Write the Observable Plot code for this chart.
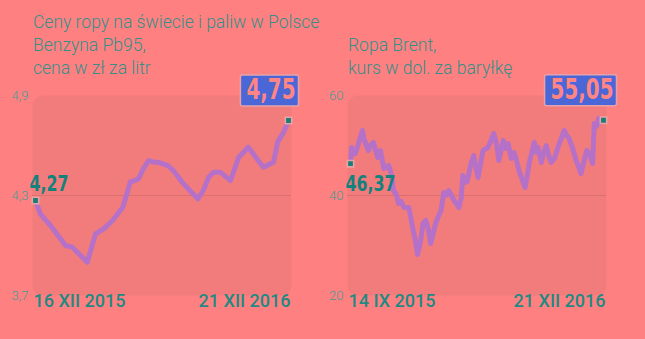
<!DOCTYPE html>
<html>
<head>
<meta charset="utf-8">
<script src="https://cdn.jsdelivr.net/npm/d3@7"></script>
<script src="https://cdn.jsdelivr.net/npm/@observablehq/plot@0.6"></script>
<style>
  body { margin: 0; background: #ff8080; }
  #page { position: relative; width: 645px; height: 339px; overflow: hidden; background: #ff8080; font-family: Roboto, "Noto Sans", sans-serif; }
  .title { position: absolute; color: #35908a; font-size: 17.5px; font-weight: 300; line-height: 23px; white-space: nowrap; }
  .chart { position: absolute; top: 70px; }
</style>
</head>
<body>
<div id="page">
  <div class="title" style="left:33px;top:11px">Ceny ropy na świecie i paliw w Polsce<br>Benzyna Pb95,<br>cena w zł za litr</div>
  <div class="title" style="left:348px;top:34px">Ropa Brent,<br>kurs w dol. za baryłkę</div>
  <div id="fuel" class="chart" style="left:0px"></div>
  <div id="brent" class="chart" style="left:322px"></div>
</div>
<script>
// Pb95 petrol, PLN per litre
const fuelDates = [
  "2015-12-16", "2015-12-23", "2016-01-07", "2016-01-29", "2016-02-08", "2016-03-01",
  "2016-03-13", "2016-03-25", "2016-04-07", "2016-04-22", "2016-05-03", "2016-05-15",
  "2016-05-22", "2016-05-30", "2016-06-06", "2016-06-12", "2016-06-27", "2016-07-05",
  "2016-07-20", "2016-08-10", "2016-08-18", "2016-08-26", "2016-09-02", "2016-09-12",
  "2016-09-27", "2016-10-09", "2016-10-23", "2016-11-14", "2016-11-29", "2016-12-05",
  "2016-12-14", "2016-12-21"
];
const fuelPrices = [
  4.27, 4.19, 4.12, 4.00, 3.99, 3.90,
  4.07, 4.10, 4.15, 4.23, 4.38, 4.40,
  4.46, 4.51, 4.50, 4.50, 4.48, 4.45,
  4.37, 4.28, 4.33, 4.41, 4.44, 4.44,
  4.39, 4.53, 4.59, 4.47, 4.50, 4.62,
  4.68, 4.75
];
const fuelTicks = [3.7, 4.3, 4.9];
const fuelGrid = [4.3];

// Brent crude, USD per barrel
const brentDates = [
  "2015-09-14", "2015-09-16", "2015-09-18", "2015-09-23", "2015-09-29", "2015-10-06", "2015-10-09",
  "2015-10-12", "2015-10-17", "2015-10-21", "2015-10-26", "2015-11-03", "2015-11-08", "2015-11-14",
  "2015-11-23", "2015-11-27", "2015-12-02", "2015-12-07", "2015-12-11", "2015-12-16", "2015-12-21",
  "2015-12-30", "2016-01-06", "2016-01-11", "2016-01-15", "2016-01-20", "2016-01-25", "2016-01-30",
  "2016-02-04", "2016-02-08", "2016-02-12", "2016-02-17", "2016-02-22", "2016-02-27", "2016-03-03",
  "2016-03-08", "2016-03-12", "2016-03-17", "2016-03-22", "2016-03-31", "2016-04-04", "2016-04-07",
  "2016-04-11", "2016-04-15", "2016-04-22", "2016-04-27", "2016-05-01", "2016-05-05", "2016-05-09",
  "2016-05-14", "2016-05-23", "2016-05-28", "2016-06-03", "2016-06-08", "2016-06-12", "2016-06-20",
  "2016-06-24", "2016-06-29", "2016-07-05", "2016-07-10", "2016-07-14", "2016-07-19", "2016-07-30",
  "2016-08-03", "2016-08-07", "2016-08-16", "2016-08-20", "2016-08-23", "2016-08-29", "2016-09-02",
  "2016-09-07", "2016-09-12", "2016-09-16", "2016-09-22", "2016-09-26", "2016-10-01", "2016-10-10",
  "2016-10-14", "2016-10-18", "2016-10-25", "2016-11-01", "2016-11-05", "2016-11-10", "2016-11-15",
  "2016-11-20", "2016-11-25", "2016-12-01", "2016-12-04", "2016-12-08", "2016-12-12", "2016-12-16",
  "2016-12-21"
];
const brentPrices = [
  46.37, 49.6, 48.2, 48.4, 50.5, 53.0, 51.2,
  50.4, 49.0, 50.1, 50.6, 47.6, 49.0, 45.4,
  46.0, 44.6, 41.0, 40.2, 38.4, 38.8, 37.6,
  37.6, 33.6, 31.0, 28.2, 30.5, 34.4, 35.0,
  33.2, 30.4, 32.0, 34.4, 35.8, 37.0, 40.6,
  40.1, 41.0, 40.0, 39.0, 37.6, 39.5, 44.0,
  42.6, 42.8, 46.4, 48.0, 45.6, 43.6, 46.0,
  49.0, 49.6, 50.8, 52.4, 50.2, 47.0, 51.0,
  49.4, 50.4, 47.4, 48.6, 47.2, 45.0, 41.6,
  43.8, 46.6, 50.6, 48.6, 49.6, 46.6, 48.4,
  50.0, 47.8, 46.6, 47.4, 48.8, 50.4, 53.0,
  52.0, 51.6, 49.6, 47.0, 45.8, 44.4, 46.8,
  49.0, 48.4, 46.4, 54.4, 53.8, 55.4, 54.6,
  55.05
];
const brentTicks = [20, 40, 60];
const brentGrid = [40];

const pl = d3.formatLocale({decimal: ",", thousands: " ", grouping: [3], currency: ["", " zł"]});
const roman = ["I", "II", "III", "IV", "V", "VI", "VII", "VIII", "IX", "X", "XI", "XII"];
const formatDay = (d) => `${d.getUTCDate()} ${roman[d.getUTCMonth()]} ${d.getUTCFullYear()}`;
const valueFormat = pl.format(".2f");

const TEAL = "#1d8a84";
const TICK = "#4b9b95";
const LINE = "#b571c8";
const PANEL = "#f27c7c";
const GRID = "#dc7070";
const BOX = "#4b66d6";
const NARROW = "'Liberation Sans Narrow', 'DejaVu Sans Condensed', Roboto, sans-serif";
const SVGNS = "http://www.w3.org/2000/svg";

// Narrow a text element horizontally around its anchor point
function condense(t, k) {
  const tr = t.getAttribute("transform") || "";
  t.setAttribute("transform", `${tr} scale(${k},1)`);
}

function drawPanel({el, dates, values, ticks, grid, tickFormat, width, marginLeft, marginRight, firstDx, firstDy, badgeDx}) {
  const data = dates.map((d, i) => ({date: d3.utcParse("%Y-%m-%d")(d), value: values[i]}));
  const first = data[0];
  const last = data[data.length - 1];
  const firstLabel = valueFormat(first.value);
  const lastLabel = valueFormat(last.value);

  const chart = Plot.plot({
    width,
    height: 260,
    marginTop: 25,
    marginBottom: 35,
    marginLeft,
    marginRight,
    style: {background: "transparent", overflow: "visible"},
    x: {type: "utc", domain: [first.date, last.date], inset: 3, axis: null},
    y: {domain: [ticks[0], ticks[ticks.length - 1]], axis: null},
    marks: [
      Plot.frame({fill: PANEL, stroke: "none", rx: 10}),
      Plot.ruleY(grid, {stroke: GRID, strokeWidth: 1.2}),
      Plot.axisY(ticks, {label: null, tickSize: 0, tickPadding: 4, tickFormat, fontSize: 13, fontWeight: 300, fontFamily: "Roboto, sans-serif", fill: TICK}),
      Plot.line(data, {x: "date", y: "value", stroke: LINE, strokeWidth: 5, strokeLinejoin: "round", strokeLinecap: "round"}),
      Plot.dot([first, last], {x: "date", y: "value", symbol: "square", r: 3.6, fill: "#1a7d78", stroke: "#e8a4a4", strokeWidth: 1.6}),
      Plot.text([first], {x: "date", text: (d) => formatDay(d.date), frameAnchor: "bottom", textAnchor: "start", dx: -2, dy: 11, fontSize: 18, fontWeight: 500, fontFamily: "Roboto, sans-serif", fill: TEAL}),
      Plot.text([last], {x: "date", text: (d) => formatDay(d.date), frameAnchor: "bottom", textAnchor: "end", dx: 2, dy: 11, fontSize: 18, fontWeight: 500, fontFamily: "Roboto, sans-serif", fill: TEAL}),
      Plot.text([first], {x: "date", y: "value", text: () => firstLabel, textAnchor: "start", dx: firstDx, dy: firstDy, fontSize: 22, fontWeight: "bold", fontFamily: NARROW, fill: "#14827c"}),
      Plot.text([last], {x: "date", y: "value", text: () => lastLabel, textAnchor: "end", dx: badgeDx, dy: -30, fontSize: 28, fontWeight: "bold", fontFamily: NARROW, fill: "#ff8585"})
    ]
  });
  document.getElementById(el).append(chart);

  const texts = Array.from(chart.querySelectorAll("text"));
  texts.filter((t) => t.textContent === firstLabel).forEach((t) => condense(t, 0.8));

  // Blue badge behind the latest value, sized to its text
  texts.filter((t) => t.textContent === lastLabel).forEach((t) => {
    condense(t, 0.79);
    const g = document.createElementNS(SVGNS, "g");
    t.parentNode.insertBefore(g, t);
    g.appendChild(t);
    const b = g.getBBox();
    const r = document.createElementNS(SVGNS, "rect");
    r.setAttribute("x", b.x - 6);
    r.setAttribute("y", b.y + 1);
    r.setAttribute("width", b.width + 9);
    r.setAttribute("height", b.height - 1);
    r.setAttribute("rx", 2);
    r.setAttribute("fill", BOX);
    r.setAttribute("stroke", "#e6a2ac");
    r.setAttribute("stroke-width", 1.5);
    g.insertBefore(r, t);
  });
}

drawPanel({
  el: "fuel", dates: fuelDates, values: fuelPrices, ticks: fuelTicks, grid: fuelGrid,
  tickFormat: pl.format(".1f"), width: 322, marginLeft: 32, marginRight: 31, firstDx: -6, firstDy: -17, badgeDx: 7
});
drawPanel({
  el: "brent", dates: brentDates, values: brentPrices, ticks: brentTicks, grid: brentGrid,
  tickFormat: pl.format("d"), width: 323, marginLeft: 25, marginRight: 39, firstDx: -5, firstDy: 20, badgeDx: 10
});
</script>
</body>
</html>
